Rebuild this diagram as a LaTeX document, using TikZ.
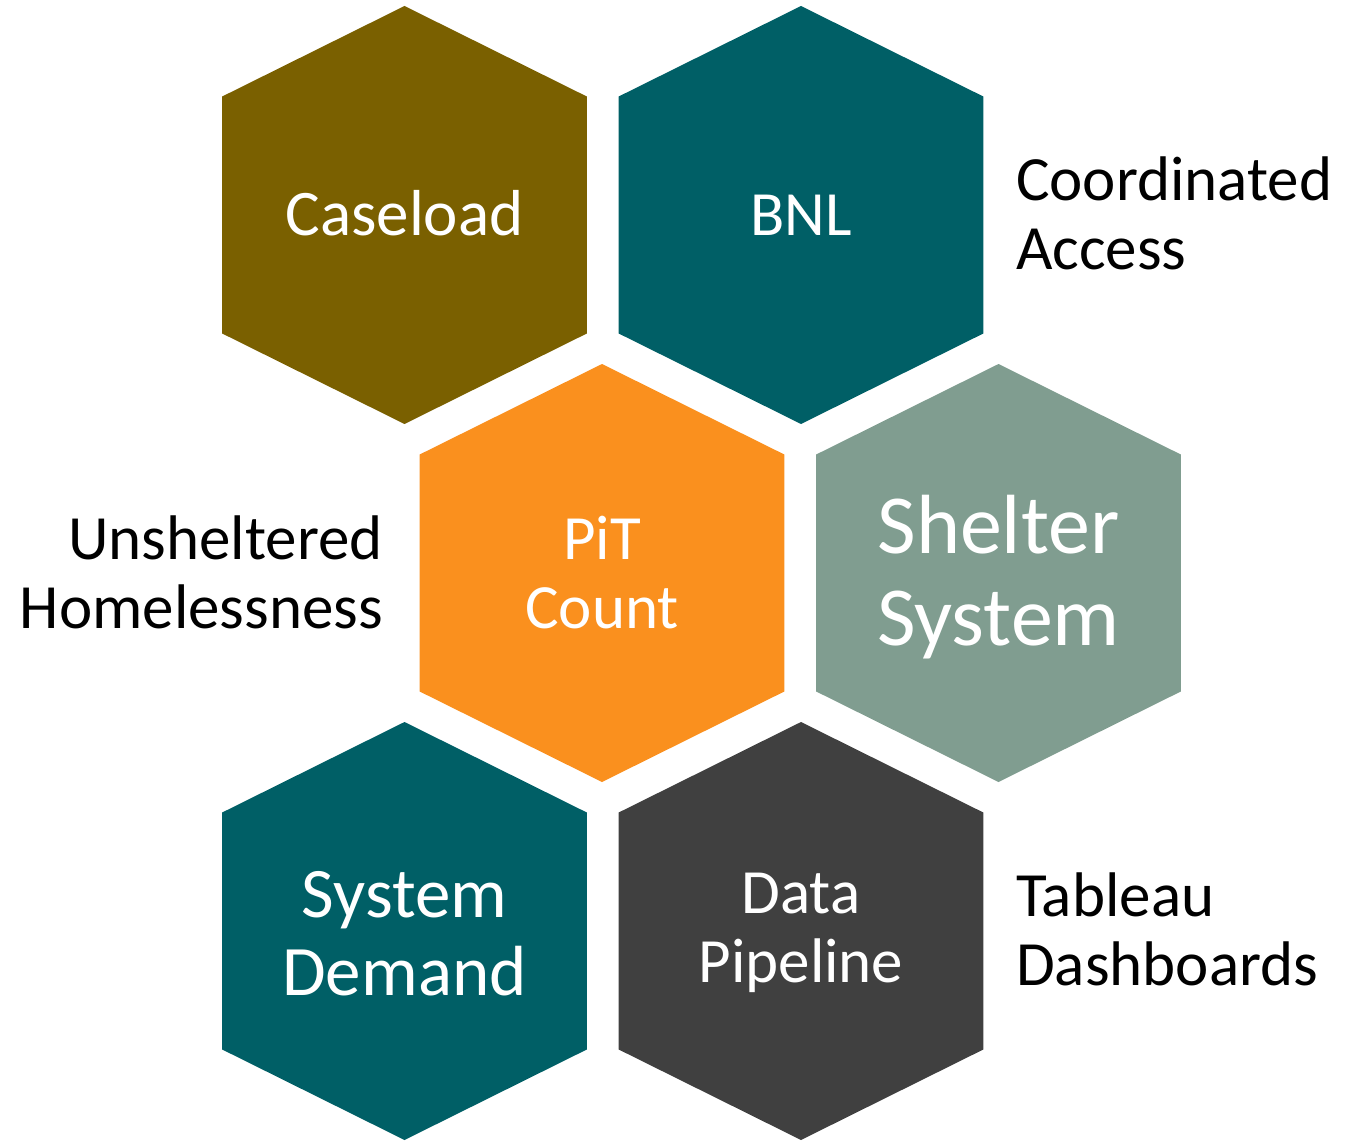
\documentclass[tikz,border=0pt]{standalone}
\usepackage{fontspec}
\setmainfont{Carlito}
\definecolor{olivehex}{RGB}{122,96,0}
\definecolor{tealhex}{RGB}{0,95,102}
\definecolor{orangehex}{RGB}{250,144,30}
\definecolor{sagehex}{RGB}{128,157,144}
\definecolor{grayhex}{RGB}{64,64,64}
\newcommand{\hexcell}[4]{%
  \fill[#3] (#1,#2-209) -- (#1+182.3,#2-118.5) -- (#1+182.3,#2+118.5) -- (#1,#2+209)
    -- (#1-182.3,#2+118.5) -- (#1-182.3,#2-118.5) -- cycle;
  \coordinate (#4) at (#1,#2);}
\tikzset{
  hexlabel/.style={text=white, align=center, inner sep=0pt, font=\fontsize{63}{69}\selectfont},
  sidelabel/.style={text=black, inner sep=0pt, font=\fontsize{63}{69}\selectfont},
}
\begin{document}
\begin{tikzpicture}[x=1pt,y=-1pt]
\useasboundingbox (0,0) rectangle (1355,1142);
\hexcell{404.5}{215}{olivehex}{hcase}
\hexcell{801}{215}{tealhex}{hbnl}
\hexcell{602}{573}{orangehex}{hpit}
\hexcell{998.5}{573}{sagehex}{hshel}
\hexcell{404.5}{931}{tealhex}{hsd}
\hexcell{801}{931}{grayhex}{hdp}
\node[hexlabel, font=\fontsize{65}{71}\selectfont] (tcase) at ([yshift=2pt]hcase) {Caseload};
\node[hexlabel] (tbnl) at (hbnl) {BNL};
\node[hexlabel] (tpit) at (hpit) {PiT\\Count};
\node[hexlabel, font=\fontsize{84}{92}\selectfont] (tshel) at ([yshift=-4pt]hshel) {Shelter\\System};
\node[hexlabel, font=\fontsize{71}{78}\selectfont] (tsd) at ([yshift=-3pt]hsd) {System\\Demand};
\node[hexlabel] (tdp) at ([yshift=-2pt]hdp) {Data\\Pipeline};
\node[sidelabel, anchor=west, align=left] (tca) at (1016,213) {Coordinated\\Access};
\node[sidelabel, anchor=east, align=right] (tuh) at (383,572) {Unsheltered\\Homelessness};
\node[sidelabel, anchor=west, align=left] (ttd) at (1016,929) {Tableau\\Dashboards};
\end{tikzpicture}
\end{document}
